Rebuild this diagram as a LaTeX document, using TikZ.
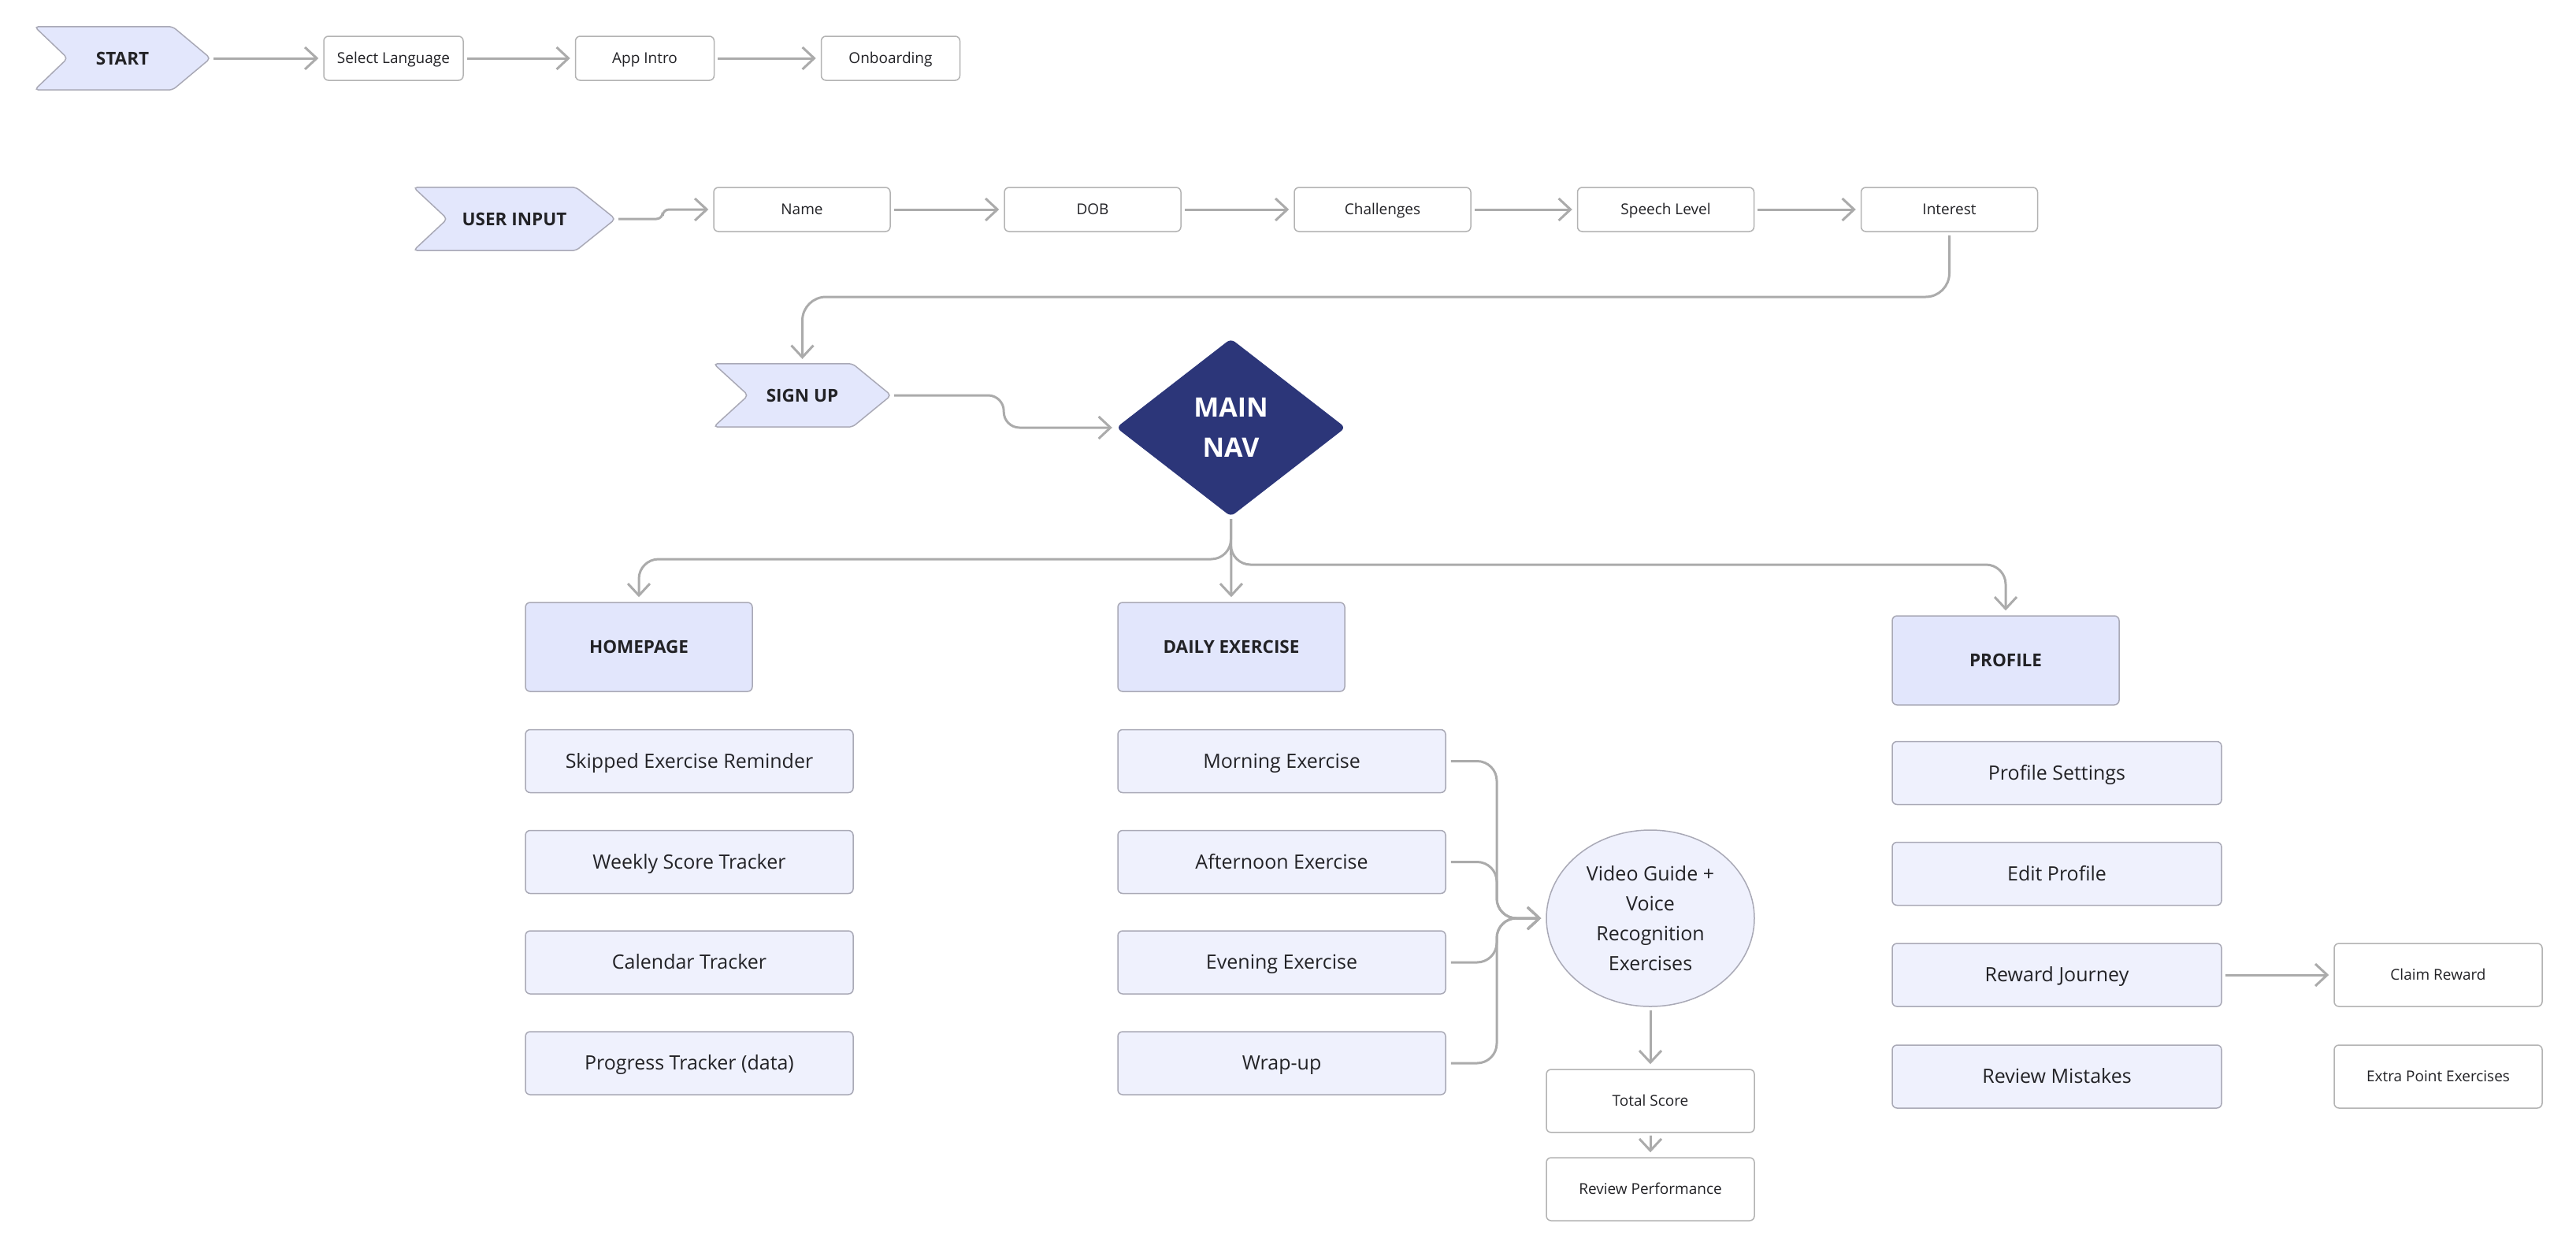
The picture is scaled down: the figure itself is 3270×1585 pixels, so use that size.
\documentclass[tikz,border=0pt]{standalone}
\usepackage{fontspec}
\setmainfont{Open Sans}
\usetikzlibrary{arrows.meta,backgrounds,calc,shapes.geometric}
\definecolor{connc}{HTML}{ABABAB}
\definecolor{boxline}{HTML}{A9A9B6}
\definecolor{wline}{HTML}{B3B3B3}
\definecolor{hdrfill}{HTML}{E2E6FC}
\definecolor{itemfill}{HTML}{EFF1FD}
\definecolor{chevfill}{HTML}{E3E7FC}
\definecolor{navy}{HTML}{2C3679}
\definecolor{txt}{HTML}{222226}
\tikzset{
  conn/.style={draw=connc, line width=3pt, -{Straight Barb[length=15pt,width=28pt,line width=3pt]}, shorten >=6pt, shorten <=4pt},
  wbox/.style={draw=wline, fill=white, rounded corners=6pt, line width=1.5pt, text=txt, font=\fontsize{19}{23}\selectfont, inner sep=0pt, text height=13.6pt, text depth=0pt},
  hdrbox/.style={draw=boxline, fill=hdrfill, rounded corners=6pt, line width=1.5pt, text=txt, font=\bfseries\fontsize{22.5}{27}\selectfont, inner sep=0pt, minimum width=288pt, minimum height=113pt, text height=16.1pt, text depth=0pt},
  itembox/.style={draw=boxline, fill=itemfill, rounded corners=6pt, line width=1.5pt, text=txt, font=\fontsize{25}{30}\selectfont, inner sep=0pt, minimum height=80pt, text height=17.9pt, text depth=0pt},
  chevtext/.style={text=txt, font=\bfseries\fontsize{22.5}{27}\selectfont, inner sep=0pt, minimum height=80pt, text height=16.1pt, text depth=0pt},
  chevshape/.style={draw=boxline, fill=chevfill, line width=1.5pt, rounded corners=5pt},
}
\newcommand{\chevron}[3]{% node, tip depth, notch depth
  \begin{pgfonlayer}{background}
  \path[chevshape] (#1.north west) -- ($(#1.north east)+(-#2,0)$) -- (#1.east) -- ($(#1.south east)+(-#2,0)$) -- (#1.south west) -- ($(#1.west)+(#3,0)$) -- cycle;
  \end{pgfonlayer}}
\begin{document}
\begin{tikzpicture}[x=1pt,y=-1pt]
\useasboundingbox (0,0) rectangle (3270,1585);

% top row
\node[chevtext, minimum width=223pt] (start) at (155.5,74) {START};
\chevron{start}{48}{42}
\node[wbox, minimum width=177pt, minimum height=56pt] (sl) at (499.5,74) {Select Language};
\node[wbox, minimum width=176pt, minimum height=56pt] (ai) at (818.5,74) {App Intro};
\node[wbox, minimum width=176pt, minimum height=56pt] (ob) at (1130.5,74) {Onboarding};
\draw[conn] (start.east) -- (sl.west);
\draw[conn] (sl.east) -- (ai.west);
\draw[conn] (ai.east) -- (ob.west);

% user input row
\node[chevtext, minimum width=256pt] (ui) at (653,278) {USER INPUT};
\chevron{ui}{50}{43}
\node[wbox, minimum width=224pt, minimum height=56pt] (nm) at (1018,266) {Name};
\node[wbox, minimum width=224pt, minimum height=56pt] (dob) at (1387,266) {DOB};
\node[wbox, minimum width=224pt, minimum height=56pt] (ch) at (1755,266) {Challenges};
\node[wbox, minimum width=224pt, minimum height=56pt] (spl) at (2114.5,266) {Speech Level};
\node[wbox, minimum width=224pt, minimum height=56pt] (intr) at (2474.5,266) {Interest};
\draw[conn, rounded corners=8pt] (ui.east) -- ++(60,0) |- (nm.west);
\draw[conn] (nm.east) -- (dob.west);
\draw[conn] (dob.east) -- (ch.west);
\draw[conn] (ch.east) -- (spl.west);
\draw[conn] (spl.east) -- (intr.west);

% sign up
\node[chevtext, minimum width=225pt] (su) at (1018.5,502) {SIGN UP};
\chevron{su}{49}{44}
\draw[conn, rounded corners=30pt] (intr.south) -- (2474.5,377) -| (su.north);

% main nav
\node[minimum width=289pt, minimum height=224pt, inner sep=0pt] (nav) at (1562.5,543) {};
\begin{pgfonlayer}{background}
\path[fill=navy, draw=navy, line width=1pt, rounded corners=6pt] (nav.north) -- (nav.east) -- (nav.south) -- (nav.west) -- cycle;
\end{pgfonlayer}
\node[text=white, font=\bfseries\fontsize{34}{51}\selectfont, align=center] at (nav.center) {MAIN\\NAV};
\draw[conn, rounded corners=20pt] (su.east) -- ++(143,0) |- (nav.west);

% headers
\node[hdrbox] (hp) at (811,821.5) {HOMEPAGE};
\node[hdrbox] (de) at (1563,821.5) {DAILY EXERCISE};
\node[hdrbox] (pr) at (2546,838.5) {PROFILE};
\draw[conn, rounded corners=25pt] (nav.south) -- (1562.5,710) -| (hp.north);
\draw[conn, rounded corners=25pt] (nav.south) -- (1562.5,717) -| (pr.north);
\draw[conn] (nav.south) -- (de.north);

% homepage items
\node[itembox, minimum width=416pt] (h1) at (875,966.5) {Skipped Exercise Reminder};
\node[itembox, minimum width=416pt] (h2) at (875,1094.5) {Weekly Score Tracker};
\node[itembox, minimum width=416pt] (h3) at (875,1222) {Calendar Tracker};
\node[itembox, minimum width=416pt] (h4) at (875,1350) {Progress Tracker (data)};

% daily exercise items
\node[itembox, minimum width=416pt] (d1) at (1627,966.5) {Morning Exercise};
\node[itembox, minimum width=416pt] (d2) at (1627,1094.5) {Afternoon Exercise};
\node[itembox, minimum width=416pt] (d3) at (1627,1222) {Evening Exercise};
\node[itembox, minimum width=416pt] (d4) at (1627,1350) {Wrap-up};

\node[ellipse, draw=boxline, fill=itemfill, line width=1.5pt, minimum width=264pt, minimum height=224pt, inner sep=0pt, text=txt, font=\fontsize{25}{38}\selectfont, align=center] (vg) at (2095,1166) {Video Guide +\\Voice\\Recognition\\Exercises};
\foreach \n/\yy in {d1/966.5,d2/1094.5,d3/1222,d4/1350}{
  \draw[conn, rounded corners=25pt, shorten <=6pt] (\n.east) -- (1900,\yy) -- (1900,1166) -- (vg.west);
}
\node[wbox, minimum width=264pt, minimum height=80pt] (ts) at (2095,1398) {Total Score};
\node[wbox, minimum width=264pt, minimum height=80pt] (rp) at (2095,1510) {Review Performance};
\draw[conn] (vg.south) -- (ts.north);
\draw[conn, shorten <=3pt] (ts.south) -- (rp.north);

% profile items
\node[itembox, minimum width=418pt] (p1) at (2611,981.5) {Profile Settings};
\node[itembox, minimum width=418pt] (p2) at (2611,1109.5) {Edit Profile};
\node[itembox, minimum width=418pt] (p3) at (2611,1238) {Reward Journey};
\node[itembox, minimum width=418pt] (p4) at (2611,1367) {Review Mistakes};
\node[wbox, minimum width=264pt, minimum height=80pt] (cr) at (3095,1238) {Claim Reward};
\node[wbox, minimum width=264pt, minimum height=80pt] (ep) at (3095,1367) {Extra Point Exercises};
\draw[conn] (p3.east) -- (cr.west);
\end{tikzpicture}
\end{document}
